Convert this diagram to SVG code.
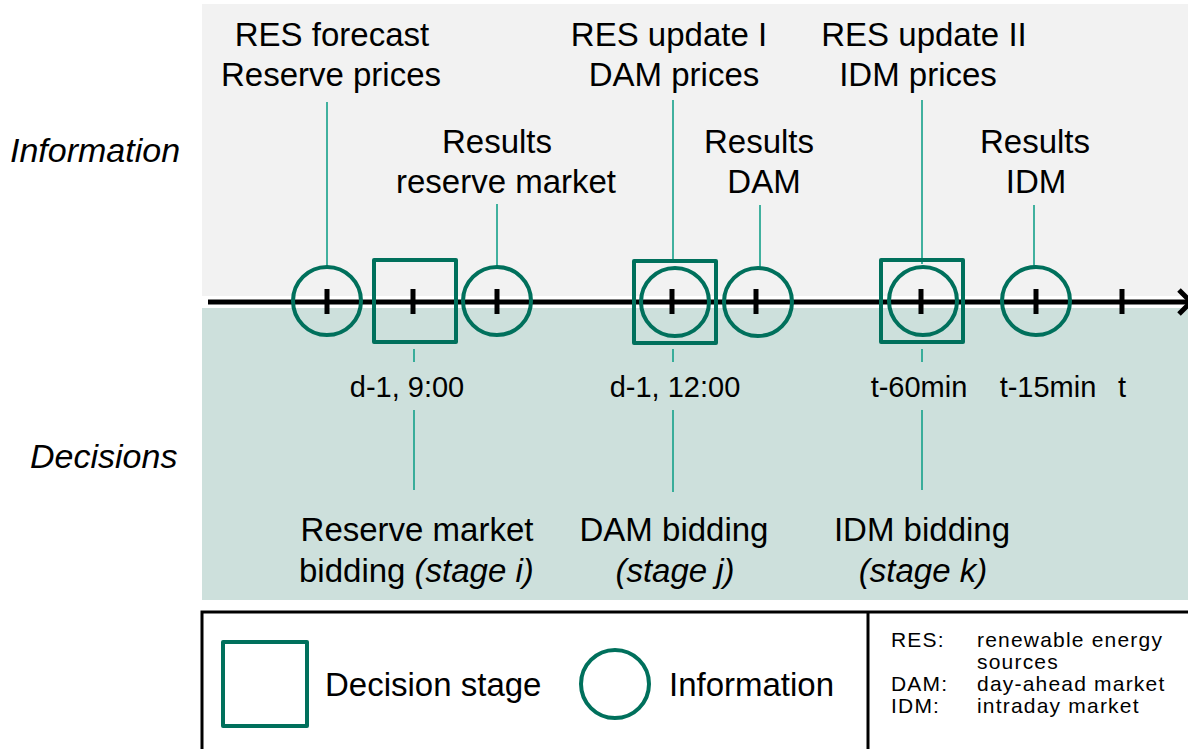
<svg xmlns="http://www.w3.org/2000/svg" width="1188" height="749" viewBox="0 0 1188 749">
  <style>
    text { font-family: "Liberation Sans", Arial, sans-serif; fill: #000; }
    .big { font-size: 33px; }
    .row { font-size: 34px; font-style: italic; }
    .mid { font-size: 29px; }
    .small { font-size: 21px; letter-spacing: 1.2px; }
    .it { font-style: italic; }
    .mid-a { text-anchor: middle; }
    .stage { fill: none; stroke: #00705c; stroke-width: 4; stroke-linejoin: round; }
    .info { fill: none; stroke: #00705c; stroke-width: 4; }
    .link { stroke: #14a08a; stroke-width: 1.6; fill: none; }
    .tick { stroke: #000; stroke-width: 5; }
  </style>

  <!-- background bands -->
  <rect x="0" y="0" width="1188" height="749" fill="#ffffff"/>
  <rect x="202" y="4" width="986" height="292" fill="#f2f2f2"/>
  <rect x="202" y="308" width="986" height="292" fill="#cde0dc"/>

  <!-- row titles -->
  <text class="row" x="10" y="162">Information</text>
  <text class="row" x="30" y="468">Decisions</text>

  <!-- connectors -->
  <g id="connectors">
    <line class="link" x1="327" y1="102" x2="327" y2="267"/>
    <line class="link" x1="497" y1="204" x2="497" y2="267"/>
    <line class="link" x1="673" y1="100" x2="673" y2="263"/>
    <line class="link" x1="760" y1="205" x2="760" y2="267"/>
    <line class="link" x1="922" y1="100" x2="922" y2="264"/>
    <line class="link" x1="1034" y1="205" x2="1034" y2="267"/>
    <line class="link" x1="414" y1="349" x2="414" y2="362"/>
    <line class="link" x1="673" y1="349" x2="673" y2="362"/>
    <line class="link" x1="922" y1="349" x2="922" y2="362"/>
    <line class="link" x1="414" y1="410" x2="414" y2="490"/>
    <line class="link" x1="673" y1="410" x2="673" y2="492"/>
    <line class="link" x1="922" y1="410" x2="922" y2="490"/>
  </g>

  <!-- time axis -->
  <g id="axis">
    <line x1="208" y1="302" x2="1188" y2="302" stroke="#000" stroke-width="5"/>
    <polyline points="1179,290 1191,302 1179,314" fill="none" stroke="#000" stroke-width="5"/>
    <line class="tick" x1="327" y1="289" x2="327" y2="314"/>
    <line class="tick" x1="413" y1="289" x2="413" y2="314"/>
    <line class="tick" x1="497" y1="289" x2="497" y2="314"/>
    <line class="tick" x1="672" y1="289" x2="672" y2="314"/>
    <line class="tick" x1="756" y1="289" x2="756" y2="314"/>
    <line class="tick" x1="921" y1="289" x2="921" y2="314"/>
    <line class="tick" x1="1036" y1="289" x2="1036" y2="314"/>
    <line class="tick" x1="1122" y1="289" x2="1122" y2="314"/>
  </g>

  <!-- information events -->
  <g id="info-res-forecast">
    <circle class="info" cx="327" cy="301" r="34"/>
    <text class="big mid-a" x="332" y="46">RES forecast</text>
    <text class="big mid-a" x="331" y="86">Reserve prices</text>
  </g>
  <g id="info-results-reserve">
    <circle class="info" cx="497" cy="301" r="34"/>
    <text class="big mid-a" x="497" y="153">Results</text>
    <text class="big mid-a" x="506" y="193">reserve market</text>
  </g>
  <g id="info-res-update-1">
    <circle class="info" cx="675" cy="302" r="34"/>
    <text class="big mid-a" x="669" y="46">RES update I</text>
    <text class="big mid-a" x="674" y="86">DAM prices</text>
  </g>
  <g id="info-results-dam">
    <circle class="info" cx="758" cy="302" r="34"/>
    <text class="big mid-a" x="759" y="153">Results</text>
    <text class="big mid-a" x="764" y="193">DAM</text>
  </g>
  <g id="info-res-update-2">
    <circle class="info" cx="923" cy="301" r="34"/>
    <text class="big mid-a" x="924" y="46">RES update II</text>
    <text class="big mid-a" x="918" y="86">IDM prices</text>
  </g>
  <g id="info-results-idm">
    <circle class="info" cx="1036" cy="301" r="34"/>
    <text class="big mid-a" x="1035" y="153">Results</text>
    <text class="big mid-a" x="1036" y="193">IDM</text>
  </g>

  <!-- decision stages -->
  <g id="stage-i">
    <rect class="stage" x="374" y="260" width="82" height="82"/>
    <text class="mid mid-a" x="407" y="397">d-1, 9:00</text>
    <text class="big mid-a" x="417" y="541">Reserve market</text>
    <text class="big" x="299" y="582">bidding  <tspan class="it">(stage i)</tspan></text>
  </g>
  <g id="stage-j">
    <rect class="stage" x="634" y="261" width="82" height="82"/>
    <text class="mid mid-a" x="675" y="397">d-1, 12:00</text>
    <text class="big mid-a" x="674" y="541">DAM bidding</text>
    <text class="big it mid-a" x="675" y="582">(stage j)</text>
  </g>
  <g id="stage-k">
    <rect class="stage" x="881" y="260" width="82" height="82"/>
    <text class="mid mid-a" x="919" y="397">t-60min</text>
    <text class="big mid-a" x="922" y="541">IDM bidding</text>
    <text class="big it mid-a" x="923" y="582">(stage k)</text>
  </g>
  <g id="time-labels">
    <text class="mid mid-a" x="1048" y="397">t-15min</text>
    <text class="mid mid-a" x="1122" y="397">t</text>
  </g>

  <!-- legend -->
  <g id="legend">
    <polyline points="202,749 202,612 1188,612" fill="none" stroke="#000" stroke-width="3"/>
    <line x1="868" y1="612" x2="868" y2="749" stroke="#000" stroke-width="3"/>
    <rect class="stage" x="223" y="642" width="84" height="84"/>
    <text class="big" x="325" y="696">Decision stage</text>
    <circle class="info" cx="615" cy="684" r="34"/>
    <text class="big" x="669" y="696">Information</text>
    <text class="small" x="891" y="647">RES:</text>
    <text class="small" x="977" y="647">renewable energy</text>
    <text class="small" x="977" y="669">sources</text>
    <text class="small" x="891" y="691">DAM:</text>
    <text class="small" x="977" y="691">day-ahead market</text>
    <text class="small" x="891" y="713">IDM:</text>
    <text class="small" x="977" y="713">intraday market</text>
  </g>
</svg>
